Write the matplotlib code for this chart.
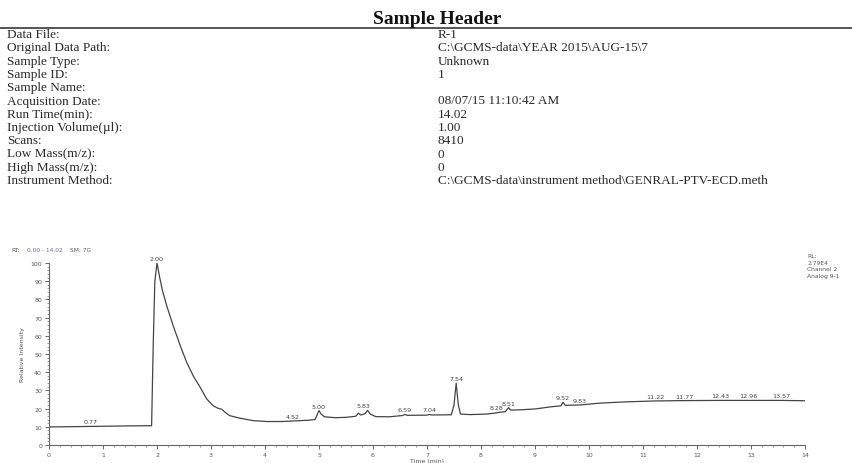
import numpy as np
import matplotlib
matplotlib.use("Agg")
import matplotlib.pyplot as plt
from matplotlib.ticker import MultipleLocator

# ---------------- data ----------------
header_labels = ["Data File:", "Original Data Path:", "Sample Type:", "Sample ID:",
                 "Sample Name:", "Acquisition Date:", "Run Time(min):",
                 "Injection Volume(µl):", "Scans:", "Low Mass(m/z):",
                 "High Mass(m/z):", "Instrument Method:"]
header_values = ["R-1", "C:\\GCMS-data\\YEAR 2015\\AUG-15\\7", "Unknown", "1", "",
                 "08/07/15 11:10:42 AM", "14.02", "1.00", "8410", "0", "0",
                 "C:\\GCMS-data\\instrument method\\GENRAL-PTV-ECD.meth"]

rt = [0.00, 0.50, 1.00, 1.50, 1.90, 1.93, 1.96, 2.00, 2.05, 2.10, 2.18, 2.30,
      2.43, 2.55, 2.67, 2.80, 2.92, 3.04, 3.12, 3.20, 3.28, 3.35, 3.54, 3.78,
      4.03, 4.30, 4.52, 4.80, 4.93, 4.97, 5.00, 5.04, 5.10, 5.30, 5.50, 5.68,
      5.73, 5.77, 5.82, 5.86, 5.90, 5.95, 6.05, 6.30, 6.55, 6.59, 6.63, 7.00,
      7.04, 7.08, 7.45, 7.50, 7.54, 7.58, 7.62, 7.80, 8.10, 8.28, 8.35, 8.45,
      8.51, 8.55, 8.70, 9.00, 9.30, 9.48, 9.52, 9.56, 9.83, 10.20, 10.60,
      11.00, 11.22, 11.77, 12.43, 12.96, 13.57, 14.02]
intensity = [9.9, 10.1, 10.3, 10.5, 10.6, 55.0, 90.0, 100.0, 92.0, 85.0, 76.5,
             65.5, 54.6, 45.4, 38.0, 31.7, 25.3, 21.6, 20.3, 19.6, 17.5, 16.1,
             14.7, 13.4, 12.9, 12.9, 13.2, 13.6, 14.0, 17.0, 18.9, 17.0, 15.5,
             15.0, 15.2, 15.8, 17.5, 16.5, 16.8, 17.5, 19.0, 17.0, 15.6, 15.5,
             16.2, 16.8, 16.3, 16.4, 16.8, 16.5, 16.6, 22.0, 34.0, 22.0, 17.0,
             16.7, 17.0, 17.6, 18.0, 18.3, 20.5, 19.2, 19.3, 19.8, 21.0, 21.5,
             23.5, 21.8, 22.0, 23.0, 23.6, 24.0, 24.2, 24.4, 24.5, 24.5, 24.5,
             24.3]

peak_labels = ["0.77", "2.00", "4.52", "5.00", "5.83", "6.59", "7.04", "7.54",
               "8.28", "8.51", "9.52", "9.83", "11.22", "11.77", "12.43",
               "12.96", "13.57"]
x_ticks = list(range(0, 15))
y_ticks = list(range(0, 101, 10))

# ---------------- figure ----------------
W, H = 852, 464
fig = plt.figure(figsize=(W / 100, H / 100), dpi=100)

def fx(px):
    return px / W

def fy(py):
    return 1 - py / H

serif = ["Liberation Serif", "DejaVu Serif"]
txt_col = "#2a2a2a"

fig.text(fx(437), fy(20), "Sample Header", family=serif, weight="bold",
         fontsize=14, ha="center", va="center", color="#111111")
fig.add_artist(plt.Line2D([0, 1], [fy(29), fy(29)], color="#555555", lw=1.4,
                          transform=fig.transFigure))
for i, (lab, val) in enumerate(zip(header_labels, header_values)):
    y = 35 + i * 13.3
    fig.text(fx(7), fy(y), lab, family=serif, fontsize=9.5, ha="left",
             va="center", color=txt_col)
    if val:
        fig.text(fx(438), fy(y), val, family=serif, fontsize=9.5, ha="left",
                 va="center", color=txt_col)

# chromatogram axes
ax = fig.add_axes([fx(49), fy(446), fx(805) - fx(49), fy(264) - fy(446)])
ax.plot(rt, intensity, color="#444444", lw=0.9)
ax.set_xlim(0, 14)
ax.set_ylim(0, 100)
for s in ["top", "right"]:
    ax.spines[s].set_visible(False)
for s in ["left", "bottom"]:
    ax.spines[s].set_color("#666666")
    ax.spines[s].set_linewidth(0.8)
ax.set_xticks(x_ticks)
ax.set_yticks(y_ticks)
ax.xaxis.set_minor_locator(MultipleLocator(0.2))
ax.yaxis.set_minor_locator(MultipleLocator(2))
ax.tick_params(which="major", length=3, width=0.7, color="#666666",
               labelsize=4.5, labelcolor="#555555", pad=2)
ax.tick_params(which="minor", length=1.6, width=0.5, color="#777777")
ax.set_xlabel("Time (min)", fontsize=4.5, color="#555555", labelpad=1)
ax.set_ylabel("Relative Intensity", fontsize=4.5, color="#555555", labelpad=4)

rt_arr = np.array(rt)
int_arr = np.array(intensity)
for lab in peak_labels:
    t = float(lab)
    near = int_arr[np.abs(rt_arr - t) <= 0.08]
    yv = max(np.interp(t, rt, intensity), near.max() if near.size else 0)
    ax.annotate(lab, (t, yv), xytext=(0, 1.5), textcoords="offset points",
                ha="center", va="bottom", fontsize=4.6, color="#444444")

fig.text(fx(11), fy(250), "RT:", fontsize=4.2, color="#555555",
         ha="left", va="center")
fig.text(fx(27), fy(250), "0.00 - 14.02", fontsize=4.2, color="#6a6aa8",
         ha="left", va="center")
fig.text(fx(70), fy(250), "SM: 7G", fontsize=4.2, color="#555555",
         ha="left", va="center")

fig.text(fx(807), fy(254), "RL:\n2.79E4\nChannel 2\nAnalog 9-1",
         fontsize=4.3, color="#555555", ha="left", va="top", linespacing=1.4)

fig.savefig("out.png", dpi=100)
